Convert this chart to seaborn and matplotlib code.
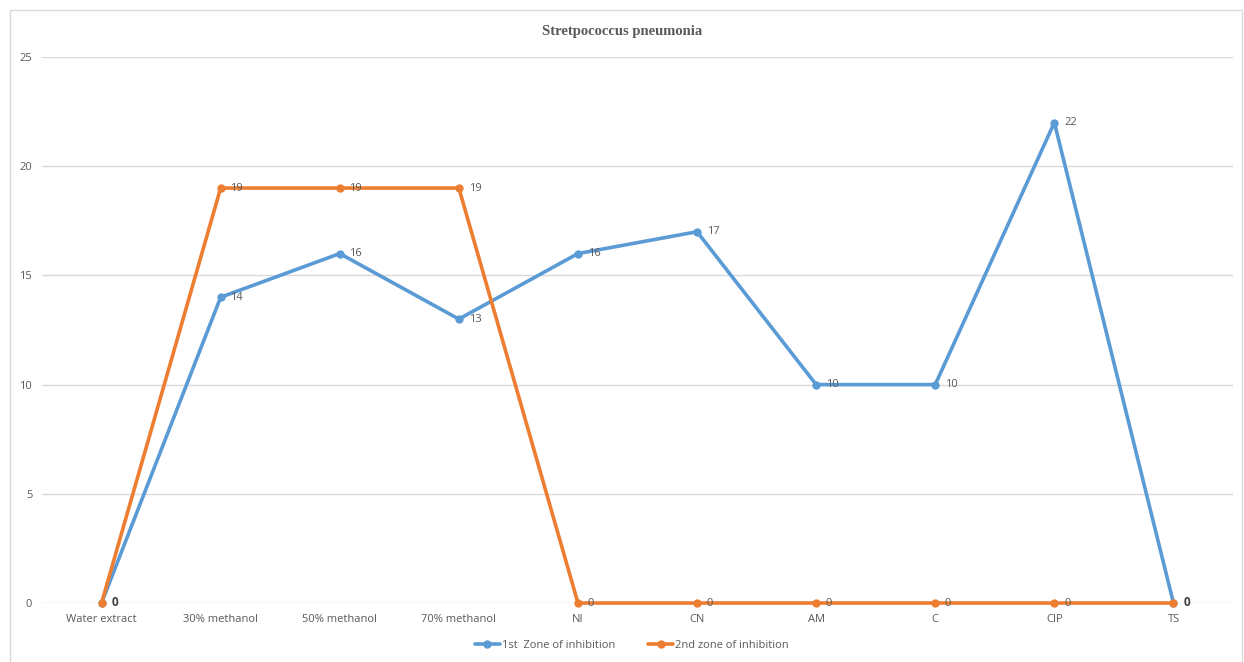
import matplotlib
matplotlib.use("Agg")
import matplotlib.pyplot as plt
from matplotlib.patches import Rectangle
from matplotlib.lines import Line2D
import seaborn as sns
import pandas as pd

categories = ["Water extract", "30% methanol", "50% methanol", "70% methanol",
              "NI", "CN", "AM", "C", "CIP", "TS"]
first_zone = [0, 14, 16, 13, 16, 17, 10, 10, 22, 0]
second_zone = [0, 19, 19, 19, 0, 0, 0, 0, 0, 0]
series_names = ["1st  Zone of inhibition", "2nd zone of inhibition"]
y_ticks = [0, 5, 10, 15, 20, 25]
title = "Stretpococcus pneumonia"

BLUE = "#5B9BD5"
ORANGE = "#ED7D31"
TEXT = "#595959"

sns.set_theme(style="white")
plt.rcParams["font.family"] = ["Open Sans", "DejaVu Sans"]

df = pd.DataFrame({
    "category": categories * 2,
    "x": list(range(len(categories))) * 2,
    "value": first_zone + second_zone,
    "series": [series_names[0]] * len(categories) + [series_names[1]] * len(categories),
})

fig = plt.figure(figsize=(12.44, 6.62), dpi=100)
fig.patch.set_facecolor("white")
# outer chart frame
fig.patches.append(Rectangle((10 / 1244, -0.01), 1232 / 1244, 1 - 10 / 662 + 0.01,
                             transform=fig.transFigure, fill=False,
                             edgecolor="#D9D9D9", linewidth=1.0, zorder=0))

ax = fig.add_axes([42 / 1244, 1 - 603 / 662, (1233 - 42) / 1244, (603 - 57) / 662])

sns.lineplot(data=df, x="x", y="value", hue="series",
             palette=[BLUE, ORANGE], marker="o", markersize=6,
             markeredgewidth=0, linewidth=2.6, legend=False, ax=ax,
             zorder=3)
for line in ax.lines:
    line.set_clip_on(False)

ax.set_xlim(-0.5, len(categories) - 0.5)
ax.set_ylim(0, 25)
ax.set_yticks(y_ticks)
ax.set_yticklabels([str(t) for t in y_ticks], fontsize=8, color=TEXT)
ax.set_xticks(range(len(categories)))
ax.set_xticklabels(categories, fontsize=8, color=TEXT)
ax.tick_params(axis="both", length=0)
ax.tick_params(axis="x", pad=8)
ax.tick_params(axis="y", pad=7)
ax.yaxis.grid(True, color="#D9D9D9", linewidth=1.0, zorder=0)
ax.xaxis.grid(False)
for s in ax.spines.values():
    s.set_visible(False)
ax.set_xlabel("")
ax.set_ylabel("")

# data labels to the right of each point; where both series share a value
# the stacked labels read as a single darker one
for i, (a, b) in enumerate(zip(first_zone, second_zone)):
    if a == b:
        ax.annotate(str(a), (i, a), xytext=(7, 0), textcoords="offset points",
                    ha="left", va="center", fontsize=8.5, color="#404040",
                    fontweight="bold", zorder=4, annotation_clip=False)
    else:
        for v in (a, b):
            ax.annotate(str(v), (i, v), xytext=(7, 0), textcoords="offset points",
                        ha="left", va="center", fontsize=8, color=TEXT, zorder=4,
                        annotation_clip=False)

fig.text(0.5, 1 - 31 / 662, title, ha="center", va="center",
         fontsize=10.5, fontweight="bold", color=TEXT, family="Liberation Serif")

handles = [Line2D([], [], color=BLUE, linewidth=2.6, marker="o", markersize=5),
           Line2D([], [], color=ORANGE, linewidth=2.6, marker="o", markersize=5)]
fig.legend(handles, series_names, loc="center", bbox_to_anchor=(632 / 1244, 1 - 645 / 662),
           ncol=2, frameon=False, fontsize=8, labelcolor=TEXT,
           handlelength=2.2, handletextpad=0.2, columnspacing=3.0)

fig.savefig("out.png", dpi=100, facecolor="white")
